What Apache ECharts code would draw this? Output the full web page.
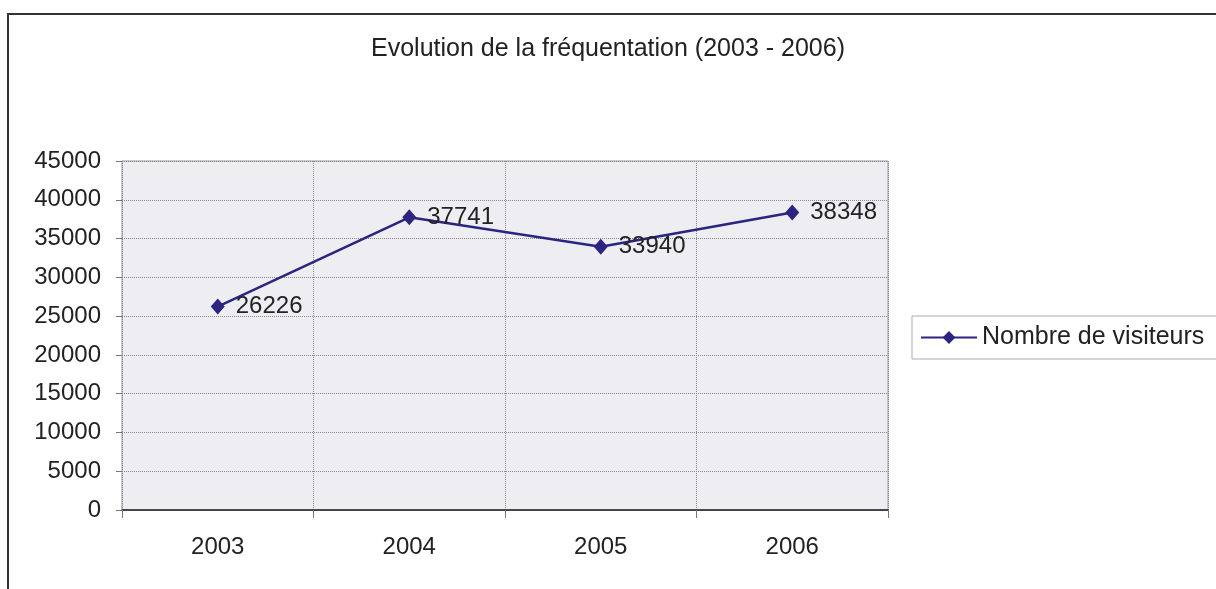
<!DOCTYPE html>
<html>
<head>
<meta charset="utf-8">
<script src="https://cdn.jsdelivr.net/npm/echarts@6/dist/echarts.min.js"></script>
<style>
  html, body { margin: 0; padding: 0; background: #fff; }
  #chart { width: 1216px; height: 589px; }
</style>
</head>
<body>
<div id="chart"></div>
<script>
  // données
  const annees = ['2003', '2004', '2005', '2006'];
  const visiteurs = [26226, 37741, 33940, 38348];
  const titre = 'Evolution de la fréquentation (2003 - 2006)';
  const nomSerie = 'Nombre de visiteurs';

  const police = 'Liberation Sans, Arial, sans-serif';
  let myChart = echarts.init(document.getElementById('chart'));
  let option = {
    backgroundColor: '#fff',
    animation: false,
    graphic: [{
      // cadre du graphique
      type: 'rect',
      shape: { x: 8, y: 14, width: 1240, height: 600 },
      style: { fill: 'none', stroke: '#333', lineWidth: 2 },
      silent: true
    }],
    title: {
      text: titre,
      left: 'center',
      top: 32,
      textStyle: { fontFamily: police, fontWeight: 'normal', fontSize: 25, color: '#222' }
    },
    legend: {
      data: [nomSerie],
      left: 912,
      top: 316,
      orient: 'vertical',
      itemWidth: 56,
      itemHeight: 16,
      itemGap: 0,
      padding: [9, 40, 9, 8],
      borderColor: '#a9a9c0',
      borderWidth: 1,
      textStyle: { fontFamily: police, fontSize: 25, color: '#222' }
    },
    grid: {
      left: 122,
      right: 328,
      top: 161,
      bottom: 79,
      show: true,
      backgroundColor: '#eeeef2',
      borderColor: '#999',
      borderWidth: 1
    },
    xAxis: {
      type: 'category',
      data: annees,
      boundaryGap: true,
      axisLine: { show: true, lineStyle: { color: '#222', width: 1.5 } },
      axisTick: { show: true, length: 8, lineStyle: { color: '#777' } },
      axisLabel: { margin: 25, fontFamily: police, fontSize: 24, color: '#222' },
      splitLine: { show: true, lineStyle: { color: '#888', type: 'dotted' } }
    },
    yAxis: {
      type: 'value',
      min: 0,
      max: 45000,
      interval: 5000,
      axisLine: { show: false },
      axisTick: { show: true, length: 6, lineStyle: { color: '#777' } },
      axisLabel: {
        margin: 21,
        fontFamily: police,
        fontSize: 24,
        color: '#222',
        formatter: function (v) { return String(v); }
      },
      splitLine: { show: true, lineStyle: { color: '#888', type: 'dotted' } }
    },
    series: [{
      name: nomSerie,
      type: 'line',
      data: visiteurs,
      symbol: 'diamond',
      symbolSize: [14, 16],
      lineStyle: { color: '#2b2480', width: 2.5 },
      itemStyle: { color: '#2b2480' },
      label: {
        show: true,
        position: 'right',
        distance: 11,
        fontFamily: police,
        fontSize: 24,
        color: '#222'
      }
    }]
  };
  myChart.setOption(option);
</script>
</body>
</html>
